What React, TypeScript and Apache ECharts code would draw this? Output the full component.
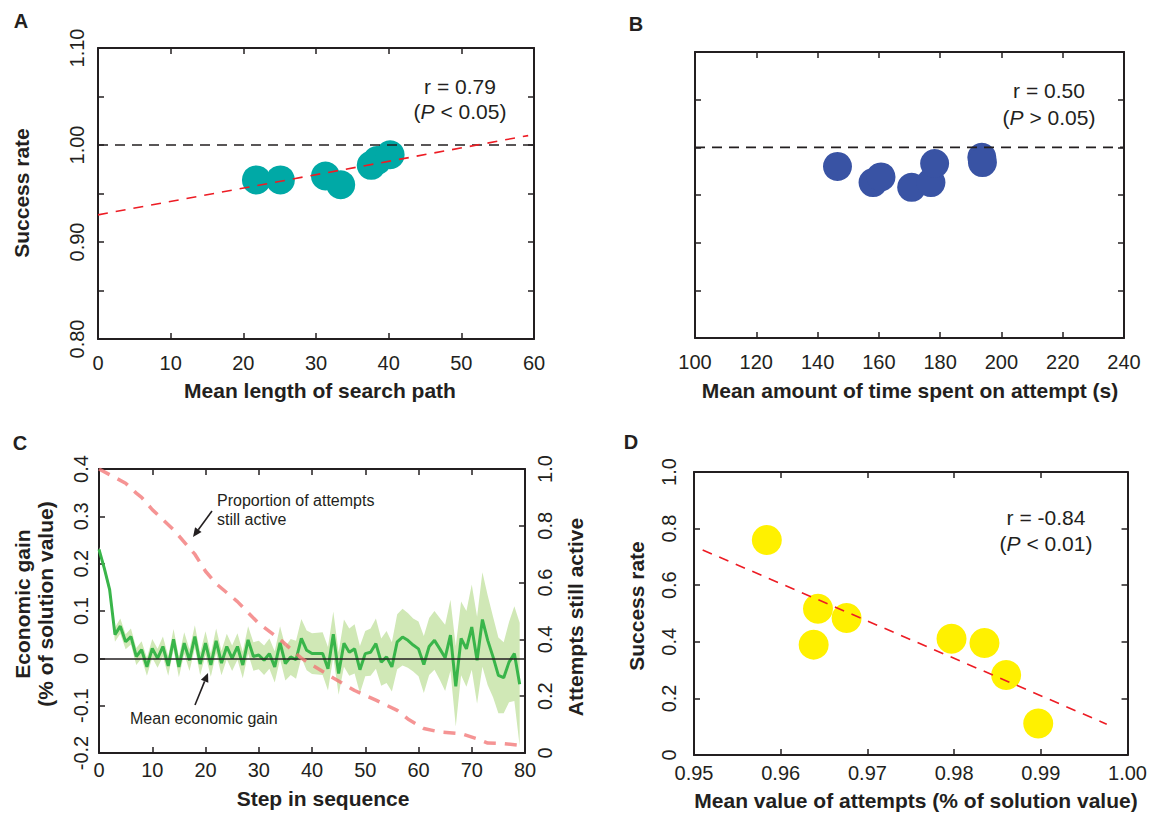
import React, { useEffect, useRef } from "react";
import * as echarts from "echarts";

// ---------- Panel A data ----------
const aPathLength = [21.8, 25.1, 31.3, 33.4, 37.6, 38.4, 40.2];
const aSuccess = [0.964, 0.964, 0.968, 0.959, 0.979, 0.984, 0.99];
const aFitX = [0, 59.2];
const aFitY = [0.928, 1.0097];
const aRefX = [0, 60];
const aRefY = [1.0, 1.0];

// ---------- Panel B data ----------
const bTime = [146.5, 158.1, 160.7, 170.7, 177.0, 178.2, 193.6, 193.8];
const bSuccess = [0.98, 0.963, 0.969, 0.958, 0.963, 0.983, 0.9895, 0.984];
const bRefX = [100, 240];
const bRefY = [1.0, 1.0];

// ---------- Panel C data ----------
const cSteps = [
  0, 1, 2, 3, 4, 5, 6, 7, 8, 9, 10, 11, 12, 13, 14, 15, 16, 17, 18, 19,
  20, 21, 22, 23, 24, 25, 26, 27, 28, 29, 30, 31, 32, 33, 34, 35, 36, 37, 38, 39,
  40, 41, 42, 43, 44, 45, 46, 47, 48, 49, 50, 51, 52, 53, 54, 55, 56, 57, 58, 59,
  60, 61, 62, 63, 64, 65, 66, 67, 68, 69, 70, 71, 72, 73, 74, 75, 76, 77, 78, 79,
];
const cGain = [
  0.23, 0.19, 0.145, 0.05, 0.068, 0.035, 0.046, 0.004, 0.018, -0.018,
  0.021, 0.0, 0.025, -0.016, 0.04, -0.018, 0.032, -0.004, 0.046, -0.012,
  0.032, -0.014, 0.037, -0.01, 0.025, 0.0, 0.025, -0.014, 0.039, 0.004,
  0.007, -0.004, 0.01, -0.018, 0.033, -0.011, 0.003, -0.003, 0.042, 0.017,
  0.01, 0.01, 0.01, -0.022, 0.051, -0.032, 0.032, 0.013, 0.02, -0.024,
  0.01, 0.013, 0.031, -0.008, 0.003, -0.018, 0.035, 0.045, 0.038, 0.028,
  0.02, -0.013, 0.025, 0.038, 0.02, 0.001, 0.049, -0.059, 0.042, 0.02,
  0.066, -0.004, 0.082, 0.038, 0.003, -0.036, -0.041, -0.008, 0.01, -0.055,
];
const cGainCI = [
  0.005, 0.008, 0.01, 0.015, 0.016, 0.016, 0.017, 0.018, 0.018, 0.019,
  0.02, 0.02, 0.021, 0.021, 0.022, 0.022, 0.023, 0.023, 0.024, 0.024,
  0.025, 0.025, 0.026, 0.026, 0.027, 0.027, 0.028, 0.028, 0.029, 0.03,
  0.03, 0.031, 0.032, 0.033, 0.035, 0.036, 0.038, 0.04, 0.041, 0.042,
  0.043, 0.044, 0.045, 0.046, 0.048, 0.045, 0.05, 0.05, 0.052, 0.05,
  0.048, 0.05, 0.053, 0.05, 0.055, 0.052, 0.058, 0.06, 0.058, 0.056,
  0.058, 0.06, 0.06, 0.062, 0.065, 0.07, 0.075, 0.085, 0.078, 0.08,
  0.09, 0.092, 0.1, 0.095, 0.085, 0.08, 0.075, 0.085, 0.1, 0.13,
];
const cActiveSteps = [0, 2, 5, 7, 8, 10, 14, 18, 20, 22, 26, 30, 34, 37, 38, 40, 44, 48, 52, 56, 58, 61, 64, 68, 71, 73, 76, 79];
const cActive = [1.0, 0.98, 0.95, 0.915, 0.9, 0.857, 0.786, 0.7, 0.64, 0.596, 0.533, 0.456, 0.4, 0.35, 0.334, 0.31, 0.264, 0.22, 0.186, 0.15, 0.12, 0.086, 0.074, 0.068, 0.05, 0.035, 0.033, 0.027];

// ---------- Panel D data ----------
const dValue = [0.9584, 0.9643, 0.9676, 0.9638, 0.9797, 0.9835, 0.986, 0.9897];
const dSuccess = [0.76, 0.517, 0.484, 0.39, 0.411, 0.396, 0.283, 0.111];
const dFitX = [0.951, 0.9976];
const dFitY = [0.7245, 0.109];

const FONT = '"Liberation Sans", Arial, Helvetica, sans-serif';
const INK = "#231F20";

const pairs = (xs: number[], ys: number[]) => xs.map((x, i) => [x, ys[i]]);

function xAx(gridIndex: number, min: number, max: number, interval: number, pos: string, showLabel: boolean, margin = 10, fmt?: any) {
  return {
    type: "value", gridIndex, position: pos, min, max, interval,
    axisLine: { show: true, onZero: false, lineStyle: { color: INK, width: 2 } },
    axisTick: { show: true, inside: true, length: 6, lineStyle: { color: INK, width: 1.5 } },
    axisLabel: { show: showLabel, color: INK, fontSize: 20, fontFamily: FONT, margin, formatter: fmt, showMinLabel: true, showMaxLabel: true },
    splitLine: { show: false },
  };
}
function yAx(gridIndex: number, min: number, max: number, interval: number, pos: string, showLabel: boolean, margin = 10, fmt?: any) {
  const a: any = xAx(gridIndex, min, max, interval, pos, showLabel, margin, fmt);
  a.axisLabel.rotate = 90;
  return a;
}

const fmt2 = (v: number) => v.toFixed(2);
const fmtA = (v: number) => {
  const r = Math.round(v * 100);
  return r % 10 === 0 ? (r / 100).toFixed(2) : "";
};
const fmt1 = (v: number) => (Math.abs(v) < 1e-9 ? "0" : v.toFixed(1));
const fmtInt = (v: number) => String(Math.round(v));

function title(x: number, y: number, text: string, rotate = false, size = 21) {
  return {
    type: "text", x, y, rotation: rotate ? Math.PI / 2 : 0, z: 100,
    style: { text, fill: INK, font: `bold ${size}px ${FONT}`, align: "center", verticalAlign: "middle" },
  };
}
function plain(x: number, y: number, text: string, align = "center", size = 21) {
  return {
    type: "text", x, y, z: 100,
    style: { text, fill: INK, font: `${size}px ${FONT}`, align, verticalAlign: "middle" },
  };
}
function pText(x: number, y: number, rel: string, val: string) {
  return {
    type: "text", x, y, z: 100,
    style: {
      text: `{n|(}{i|P}{n| ${rel} ${val})}`,
      align: "center", verticalAlign: "middle",
      rich: {
        n: { fontSize: 21, fontFamily: FONT, fill: INK, color: INK },
        i: { fontSize: 21, fontFamily: FONT, fontStyle: "italic", fill: INK, color: INK },
      },
    },
  };
}
function arrow(x1: number, y1: number, x2: number, y2: number) {
  const ang = Math.atan2(y2 - y1, x2 - x1);
  const L = 9, W = 4;
  const bx = x2 - L * Math.cos(ang), by = y2 - L * Math.sin(ang);
  const px = -Math.sin(ang) * W, py = Math.cos(ang) * W;
  return [
    { type: "line", z: 100, shape: { x1, y1, x2: bx, y2: by }, style: { stroke: INK, lineWidth: 1.6 } },
    { type: "polygon", z: 100, shape: { points: [[x2, y2], [bx + px, by + py], [bx - px, by - py]] }, style: { fill: INK } },
  ];
}

export default function App() {
  const ref = useRef<HTMLDivElement>(null);
  useEffect(() => {
    if (!ref.current) return;
    const chart = echarts.init(ref.current, undefined, { renderer: "svg" });
    const bandUpper = cGain.map((g, i) => g + cGainCI[i]);
    const bandLower = cGain.map((g, i) => g - cGainCI[i]);
    const dashLine = (color: string, width: number, dash: number[]) => ({ color, width, type: dash });

    const option: any = {
      animation: false,
      backgroundColor: "#ffffff",
      textStyle: { fontFamily: FONT },
      grid: [
        { left: 98, top: 48, width: 436, height: 291 },
        { left: 695, top: 52, width: 429, height: 286 },
        { left: 99, top: 469, width: 426, height: 284 },
        { left: 694, top: 472, width: 434, height: 283 },
      ],
      xAxis: [
        xAx(0, 0, 60, 10, "bottom", true, 14, fmtInt),
        xAx(0, 0, 60, 10, "top", false),
        xAx(1, 100, 240, 20, "bottom", true, 14, fmtInt),
        xAx(1, 100, 240, 20, "top", false),
        xAx(2, 0, 80, 10, "bottom", true, 7, fmtInt),
        xAx(2, 0, 80, 10, "top", false),
        xAx(3, 0.95, 1.0, 0.01, "bottom", true, 8, fmt2),
        xAx(3, 0.95, 1.0, 0.01, "top", false),
      ],
      yAxis: [
        yAx(0, 0.8, 1.1, 0.05, "left", true, 11, fmtA),
        yAx(0, 0.8, 1.1, 0.05, "right", false),
        yAx(1, 0.8, 1.1, 0.05, "left", false),
        yAx(1, 0.8, 1.1, 0.05, "right", false),
        yAx(2, -0.2, 0.4, 0.1, "left", true, 8, fmt1),
        yAx(2, 0, 1.0, 0.2, "right", true, 10, fmt1),
        yAx(3, 0, 1.0, 0.2, "left", true, 15, fmt1),
        yAx(3, 0, 1.0, 0.2, "right", false),
      ],
      series: [
        // Panel A
        { type: "scatter", xAxisIndex: 0, yAxisIndex: 0, data: pairs(aPathLength, aSuccess), symbolSize: 29, itemStyle: { color: "#00A9A6", opacity: 1 }, z: 2 },
        { type: "line", xAxisIndex: 0, yAxisIndex: 0, data: pairs(aRefX, aRefY), symbol: "none", lineStyle: dashLine(INK, 1.6, [10, 7]), z: 3 },
        { type: "line", xAxisIndex: 0, yAxisIndex: 0, data: pairs(aFitX, aFitY), symbol: "none", lineStyle: dashLine("#ED1C24", 1.6, [10, 8]), z: 3 },
        // Panel B
        { type: "scatter", xAxisIndex: 2, yAxisIndex: 2, data: pairs(bTime, bSuccess), symbolSize: 29, itemStyle: { color: "#3953A4", opacity: 1 }, z: 2 },
        { type: "line", xAxisIndex: 2, yAxisIndex: 2, data: pairs(bRefX, bRefY), symbol: "none", lineStyle: dashLine(INK, 1.6, [10, 7]), z: 3 },
        // Panel C band
        {
          type: "custom", xAxisIndex: 4, yAxisIndex: 4, data: [[0, 0]], z: 1, silent: true,
          renderItem: (_p: any, api: any) => {
            const up = bandUpper.map((v, i) => api.coord([cSteps[i], v]));
            const lo = bandLower.map((v, i) => api.coord([cSteps[i], v])).reverse();
            return { type: "polygon", shape: { points: up.concat(lo) }, style: { fill: "#D0E8B6" } };
          },
        },
        {
          type: "line", xAxisIndex: 4, yAxisIndex: 4, data: pairs(cSteps, cGain), symbol: "none",
          lineStyle: { color: "#39B54A", width: 3 }, z: 2,
          markLine: {
            silent: true, symbol: "none", label: { show: false }, z: 4,
            lineStyle: { color: INK, width: 1.5, type: "solid" },
            data: [{ yAxis: 0 }],
          },
        },
        {
          type: "line", xAxisIndex: 4, yAxisIndex: 5, data: pairs(cActiveSteps, cActive), symbol: "none",
          lineStyle: { color: "rgba(242,118,118,0.78)", width: 3.5, type: [12, 9] }, z: 5,
        },
        // Panel D
        { type: "scatter", xAxisIndex: 6, yAxisIndex: 6, data: pairs(dValue, dSuccess), symbolSize: 30, itemStyle: { color: "#FFF100", opacity: 1 }, z: 2 },
        { type: "line", xAxisIndex: 6, yAxisIndex: 6, data: pairs(dFitX, dFitY), symbol: "none", lineStyle: dashLine("#ED1C24", 1.6, [10, 8]), z: 3 },
      ],
      graphic: [
        title(21, 21, "A", false, 20),
        title(636, 24, "B", false, 20),
        title(20, 443, "C", false, 20),
        title(631, 442, "D", false, 20),
        title(21, 193, "Success rate", true),
        title(320, 390, "Mean length of search path"),
        title(910, 390, "Mean amount of time spent on attempt (s)"),
        title(323, 798, "Step in sequence"),
        title(22, 604, "Economic gain", true),
        title(45, 604, "(% of solution value)", true),
        title(575, 617, "Attempts still active", true),
        title(636, 606, "Success rate", true),
        title(916, 800, "Mean value of attempts (% of solution value)"),
        plain(460, 86, "r = 0.79"),
        pText(460, 111, "<", "0.05"),
        plain(1049, 90, "r = 0.50"),
        pText(1049, 117, ">", "0.05"),
        plain(1046, 517, "r = -0.84"),
        pText(1046, 543, "<", "0.01"),
        plain(217, 500, "Proportion of attempts", "left", 16),
        plain(217, 519, "still active", "left", 16),
        plain(130, 718, "Mean economic gain", "left", 16),
        ...arrow(212, 511, 193, 537),
        ...arrow(195, 705, 208, 673),
      ],
    };
    chart.setOption(option);
    return () => chart.dispose();
  }, []);
  return <div ref={ref} style={{ position: "absolute", left: 0, top: 0, width: 1150, height: 814 }} />;
}
